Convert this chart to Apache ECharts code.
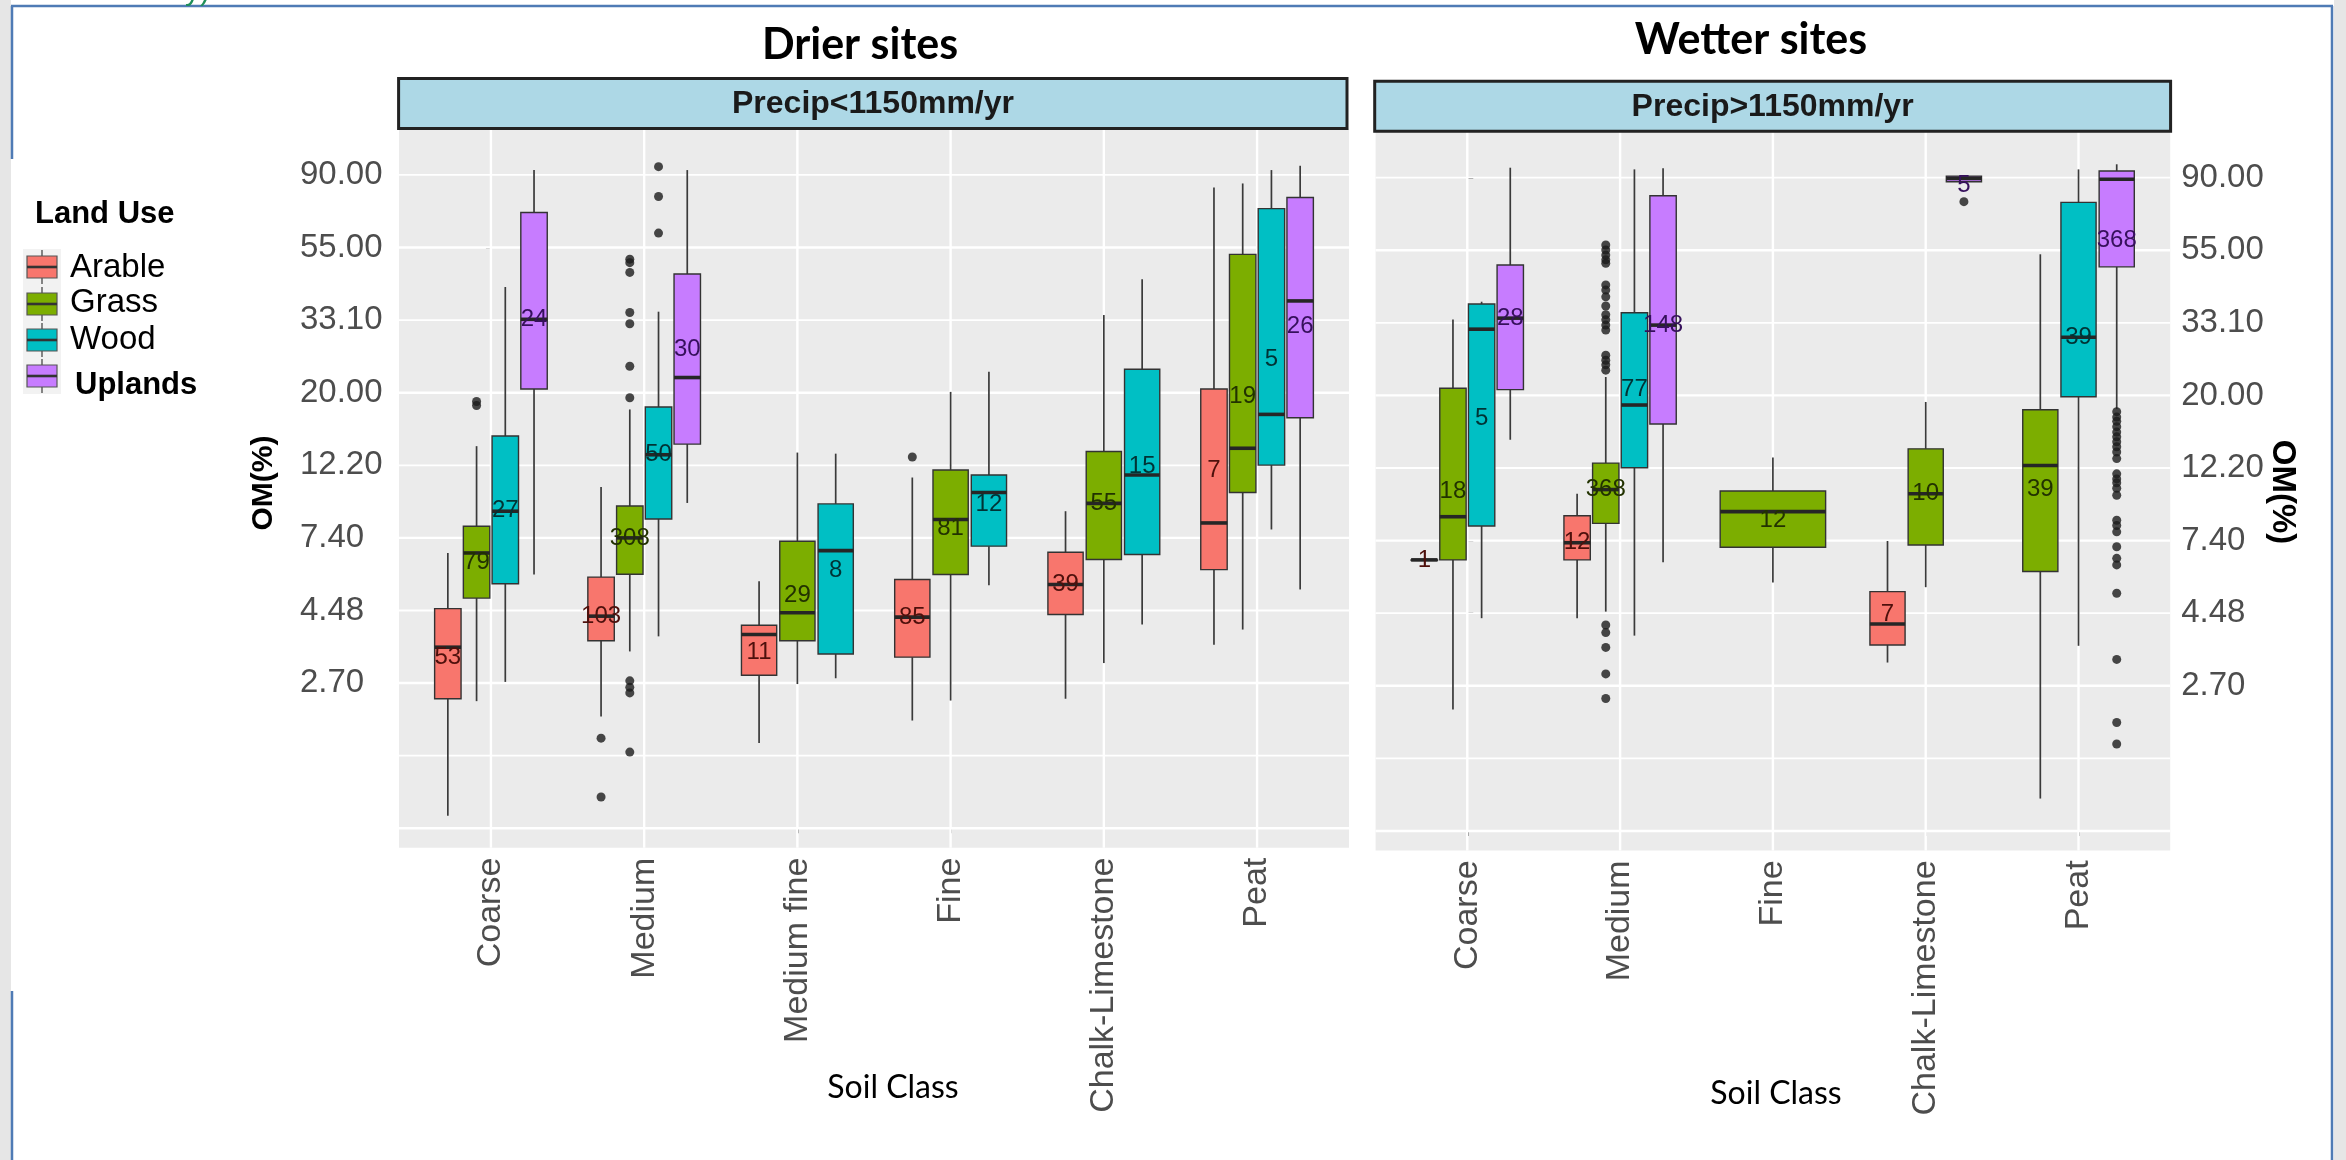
<!DOCTYPE html>
<html><head><meta charset="utf-8">
<script src="https://cdn.jsdelivr.net/npm/echarts@6/dist/echarts.min.js"></script>
<style>html,body{margin:0;padding:0;background:#fff}#c{width:2346px;height:1160px}</style>
</head><body><div id="c"></div>
<script>
// ---------- data ----------
const landUses = ['Arable', 'Grass', 'Wood', 'Uplands'];
const landColors = ['#F8766D', '#7CAE00', '#00BFC4', '#C77CFF'];
const countColors = ['#4e100c', '#223200', '#003335', '#36105c'];

const drierSoils = ['Coarse', 'Medium', 'Medium fine', 'Fine', 'Chalk-Limestone', 'Peat'];
const wetterSoils = ['Coarse', 'Medium', 'Fine', 'Chalk-Limestone', 'Peat'];

// OM(%) tick labels (log scale) and their ln positions
const yTickLn = [1, 1.5, 2, 2.5, 3, 3.5, 4, 4.5];
const yTickLabels = ['2.70', '4.48', '7.40', '12.20', '20.00', '33.10', '55.00', '90.00'];
const yMajorLn = [0, 1, 2, 3, 4];
const yMinorLn = [0.5, 1.5, 2.5, 3.5, 4.5];

// [soil, land use, lower whisker, Q1, median, Q3, upper whisker, count-label position, n]  (OM %)
const drierBoxes = [
  ['Coarse', 'Arable', 1.09, 2.44, 3.48, 4.54, 6.66, 3.24, 53],
  ['Coarse', 'Grass', 2.40, 4.88, 6.66, 8.01, 13.9, 6.26, 79],
  ['Coarse', 'Wood', 2.74, 5.39, 8.88, 14.9, 41.6, 8.95, 27],
  ['Coarse', 'Uplands', 5.74, 20.6, 33.3, 69.5, 93.1, 33.3, 24],
  ['Medium', 'Arable', 2.16, 3.64, 4.31, 5.64, 10.5, 4.31, 103],
  ['Medium', 'Grass', 3.38, 5.75, 7.39, 9.20, 17.9, 7.39, 308],
  ['Medium', 'Wood', 3.75, 8.42, 13.1, 18.2, 35.1, 13.1, 50],
  ['Medium', 'Uplands', 9.40, 14.1, 22.3, 45.5, 93.1, 27.1, 30],
  ['Medium fine', 'Arable', 1.80, 2.87, 3.80, 4.05, 5.48, 3.36, 11],
  ['Medium fine', 'Grass', 2.70, 3.64, 4.41, 7.22, 13.3, 4.98, 29],
  ['Medium fine', 'Wood', 2.81, 3.32, 6.77, 9.34, 13.2, 5.90, 8],
  ['Fine', 'Arable', 2.10, 3.25, 4.28, 5.55, 11.2, 4.28, 85],
  ['Fine', 'Grass', 2.41, 5.74, 8.39, 11.8, 20.2, 7.89, 81],
  ['Fine', 'Wood', 5.33, 6.98, 10.1, 11.4, 23.2, 9.30, 12],
  ['Chalk-Limestone', 'Arable', 2.44, 4.36, 5.36, 6.69, 8.88, 5.36, 39],
  ['Chalk-Limestone', 'Grass', 3.12, 6.37, 9.37, 13.4, 34.3, 9.37, 55],
  ['Chalk-Limestone', 'Wood', 4.07, 6.59, 11.4, 23.6, 43.9, 12.1, 15],
  ['Peat', 'Arable', 3.54, 5.94, 8.19, 20.6, 82.6, 11.8, 7],
  ['Peat', 'Grass', 3.93, 10.1, 13.7, 52.1, 84.9, 19.6, 19],
  ['Peat', 'Wood', 7.83, 12.2, 17.3, 71.4, 93.1, 25.3, 5],
  ['Peat', 'Uplands', 5.18, 16.9, 37.8, 77.1, 95.9, 31.8, 26]
];
const wetterBoxes = [
  ['Coarse', 'Arable', 6.47, 6.47, 6.47, 6.47, 6.47, 6.47, 1],
  ['Coarse', 'Grass', 2.31, 6.47, 8.71, 21.1, 33.9, 10.35, 18],
  ['Coarse', 'Wood', 4.33, 8.17, 31.7, 37.7, 38.3, 17.2, 5],
  ['Coarse', 'Uplands', 14.8, 20.9, 34.2, 49.3, 96.4, 34.2, 28],
  ['Medium', 'Arable', 4.33, 6.47, 7.28, 8.77, 10.2, 7.28, 12],
  ['Medium', 'Grass', 4.53, 8.32, 10.5, 12.6, 22.8, 10.5, 368],
  ['Medium', 'Wood', 3.84, 12.2, 18.8, 35.5, 95.3, 20.9, 77],
  ['Medium', 'Uplands', 6.37, 16.5, 32.6, 79.5, 96.0, 32.6, 148],
  ['Fine', 'Grass', 5.54, 7.06, 9.02, 10.4, 13.1, 8.47, 12],
  ['Chalk-Limestone', 'Arable', 3.19, 3.60, 4.16, 5.20, 7.37, 4.43, 7],
  ['Chalk-Limestone', 'Grass', 5.36, 7.17, 10.2, 13.9, 19.2, 10.2, 10],
  ['Chalk-Limestone', 'Uplands', 87.5, 87.5, 89.6, 91.0, 91.5, 85.5, 5],
  ['Peat', 'Grass', 1.25, 5.97, 12.4, 18.2, 53.1, 10.5, 39],
  ['Peat', 'Wood', 3.58, 19.9, 30.0, 75.9, 95.3, 30.0, 39],
  ['Peat', 'Uplands', 18.3, 48.7, 89.0, 94.2, 98.7, 58.6, 368]
];

// [soil, land use, outlier values (OM %)]
const drierOutliers = [
  ['Coarse', 'Grass', [18.9, 18.4]],
  ['Medium', 'Arable', [1.86, 1.24]],
  ['Medium', 'Grass', [50.4, 49.2, 46.0, 34.9, 32.3, 24.1, 19.4, 2.76, 2.64, 2.54, 1.69]],
  ['Medium', 'Wood', [95.3, 77.6, 60.3]],
  ['Fine', 'Arable', [12.9]]
];
const wetterOutliers = [
  ['Medium', 'Grass', [56.6, 54.7, 52.8, 51.1, 49.9, 43.0, 41.5, 39.6, 37.2, 35.0, 33.8, 32.6, 31.5,
    26.5, 25.6, 24.8, 23.9, 4.13, 3.92, 3.54, 2.95, 2.49]],
  ['Chalk-Limestone', 'Uplands', [76.3]],
  ['Peat', 'Uplands', [17.96, 17.3, 16.8, 16.2, 15.6, 15.1, 14.6, 14.1, 13.6, 13.0, 11.7, 11.3, 11.0,
    10.6, 10.1, 8.5, 8.2, 7.85, 7.08, 6.54, 6.25, 5.14, 3.26, 2.11, 1.82]]
];

// ---------- build ----------
const Y_MIN = -0.134, Y_MAX = 4.82;
const FONT = '"Liberation Sans", Arial, sans-serif';

function buildBoxes(soils, rows) {
  const counts = soils.map(s => rows.filter(r => r[0] === s).length);
  const seen = soils.map(() => 0);
  return rows.map(r => {
    const ci = soils.indexOf(r[0]);
    const n = counts[ci];
    const gi = seen[ci]++;
    const step = 0.75 / n;
    const x = ci + (gi - (n - 1) / 2) * step;
    return [x, Math.log(r[2]), Math.log(r[3]), Math.log(r[4]), Math.log(r[5]), Math.log(r[6]),
      Math.log(r[7]), r[8], landUses.indexOf(r[1]), step * 0.92, r[0], r[1]];
  });
}
function buildOutliers(boxes, outs) {
  const pts = [];
  outs.forEach(o => {
    const b = boxes.find(d => d[10] === o[0] && d[11] === o[1]);
    o[2].forEach(v => pts.push([b[0], Math.log(v)]));
  });
  return pts;
}
function gridLineData(soils) {
  return yMajorLn.map(v => [0, v, 1]).concat(yMinorLn.map(v => [0, v, 0]))
    .concat(soils.map((s, i) => [1, i, 1]));
}

const drierData = buildBoxes(drierSoils, drierBoxes);
const wetterData = buildBoxes(wetterSoils, wetterBoxes);

function renderGridLine(params, api) {
  const cs = params.coordSys;
  const orient = api.value(0), v = api.value(1), major = api.value(2);
  if (orient === 0) {
    const y = api.coord([0, v])[1];
    return { type: 'line', shape: { x1: cs.x, y1: y, x2: cs.x + cs.width, y2: y },
      style: { stroke: '#ffffff', lineWidth: major ? 2.4 : 1.8 } };
  }
  const x = api.coord([v, 0])[0];
  return { type: 'line', shape: { x1: x, y1: cs.y, x2: x, y2: cs.y + cs.height },
    style: { stroke: '#ffffff', lineWidth: 2.4 } };
}

function renderBox(params, api) {
  const x = api.value(0);
  const pLo = api.coord([x, api.value(1)]);
  const pQ1 = api.coord([x, api.value(2)]);
  const pMed = api.coord([x, api.value(3)]);
  const pQ3 = api.coord([x, api.value(4)]);
  const pHi = api.coord([x, api.value(5)]);
  const pLab = api.coord([x, api.value(6)]);
  const n = api.value(7);
  const li = api.value(8);
  const w = api.size([api.value(9), 0])[0];
  const cx = pMed[0];
  const whisker = { stroke: '#3a3a3a', lineWidth: 1.7 };
  return {
    type: 'group',
    children: [
      { type: 'line', shape: { x1: cx, y1: pHi[1], x2: cx, y2: pQ3[1] }, style: whisker },
      { type: 'line', shape: { x1: cx, y1: pQ1[1], x2: cx, y2: pLo[1] }, style: whisker },
      { type: 'rect', shape: { x: cx - w / 2, y: pQ3[1], width: w, height: Math.max(pQ1[1] - pQ3[1], 0.5) },
        style: { fill: landColors[li], stroke: '#333333', lineWidth: 1.4 } },
      { type: 'line', shape: { x1: cx - w / 2, y1: pMed[1], x2: cx + w / 2, y2: pMed[1] },
        style: { stroke: '#262626', lineWidth: 3.6 } },
      { type: 'text', x: cx, y: pLab[1],
        style: { text: String(n), align: 'center', verticalAlign: 'middle', textAlign: 'center',
          textVerticalAlign: 'middle', fill: countColors[li], font: '24px ' + FONT } }
    ]
  };
}

function fmtY(v) {
  for (let i = 0; i < yTickLn.length; i++) if (Math.abs(yTickLn[i] - v) < 1e-6) return yTickLabels[i];
  return '';
}

function xAxisFor(idx, soils) {
  const vals = soils.map((s, i) => i);
  return {
    type: 'value', gridIndex: idx, min: -0.6, max: soils.length - 1 + 0.6,
    axisLine: { show: false }, splitLine: { show: false }, minorTick: { show: false },
    axisTick: { show: true, customValues: vals, length: 5, lineStyle: { color: '#333', width: 1.6 } },
    axisLabel: { customValues: vals, formatter: v => soils[Math.round(v)] || '', rotate: 90, margin: 10,
      color: '#4d4d4d', fontSize: 34, fontFamily: FONT }
  };
}

const grids = [
  { left: 399, top: 128.5, width: 950, height: 719.2, show: true, backgroundColor: '#ebebeb', borderWidth: 0, outerBoundsMode: 'none' },
  { left: 1375.6, top: 131.2, width: 794.6, height: 719.2, show: true, backgroundColor: '#ebebeb', borderWidth: 0, outerBoundsMode: 'none' }
];

const yAxes = [
  { type: 'value', gridIndex: 0, min: Y_MIN, max: Y_MAX, position: 'left',
    axisLine: { show: false }, splitLine: { show: false },
    axisTick: { show: true, customValues: yMajorLn, length: 5, lineStyle: { color: '#444', width: 1.6 } },
    axisLabel: { customValues: yTickLn, formatter: fmtY, align: 'left', margin: 99,
      color: '#4d4d4d', fontSize: 33, fontFamily: FONT } },
  { type: 'value', gridIndex: 1, min: Y_MIN, max: Y_MAX, position: 'right',
    axisLine: { show: false }, splitLine: { show: false },
    axisTick: { show: true, customValues: yTickLn, length: 6, lineStyle: { color: '#444', width: 1.6 } },
    axisLabel: { customValues: yTickLn, formatter: fmtY, align: 'left', margin: 11,
      color: '#4d4d4d', fontSize: 33, fontFamily: FONT } }
];

function panelSeries(idx, soils, data, outs) {
  return [
    { type: 'custom', xAxisIndex: idx, yAxisIndex: idx, z: 1, silent: true, clip: false,
      renderItem: renderGridLine, data: gridLineData(soils) },
    { type: 'custom', xAxisIndex: idx, yAxisIndex: idx, z: 3, silent: true, clip: false,
      renderItem: renderBox, data: data.map(d => d.slice(0, 10)) },
    { type: 'scatter', xAxisIndex: idx, yAxisIndex: idx, z: 4, silent: true,
      symbol: 'circle', symbolSize: 9, itemStyle: { color: '#1c1c1c' },
      data: buildOutliers(data, outs) }
  ];
}

// ---------- decorations ----------
const graphics = [];
// page frame
graphics.push({ type: 'rect', shape: { x: 0, y: 0, width: 11, height: 1160 }, style: { fill: '#e6e6e6' }, silent: true });
graphics.push({ type: 'rect', shape: { x: 2334, y: 0, width: 12, height: 1160 }, style: { fill: '#e6e6e6' }, silent: true });
const frameStyle = { stroke: '#4f7bb5', lineWidth: 2.5 };
graphics.push({ type: 'line', shape: { x1: 11, y1: 6, x2: 2333, y2: 6 }, style: frameStyle, silent: true });
graphics.push({ type: 'line', shape: { x1: 12, y1: 6, x2: 12, y2: 159 }, style: frameStyle, silent: true });
graphics.push({ type: 'line', shape: { x1: 12, y1: 991, x2: 12, y2: 1160 }, style: frameStyle, silent: true });
graphics.push({ type: 'line', shape: { x1: 2332, y1: 6, x2: 2332, y2: 1160 }, style: frameStyle, silent: true });
graphics.push({ type: 'text', x: 185, y: 7, silent: true,
  style: { text: 'y)', fill: '#1f8f5a', font: '30px ' + FONT, verticalAlign: 'bottom', textVerticalAlign: 'bottom' } });

function txt(t, x, y, font, opts) {
  opts = opts || {};
  return { type: 'text', x: x, y: y, rotation: opts.rotation || 0, silent: true, z: 10,
    style: { text: t, fill: opts.fill || '#000', font: font,
      align: opts.align || 'center', textAlign: opts.align || 'center',
      verticalAlign: 'middle', textVerticalAlign: 'middle' } };
}
// titles
graphics.push(txt('Drier sites', 860, 45, 'bold 43px Lato, "Open Sans", sans-serif'));
graphics.push(txt('Wetter sites', 1751, 40, 'bold 43px Lato, "Open Sans", sans-serif'));
// strips
graphics.push({ type: 'rect', shape: { x: 398.6, y: 78.6, width: 948.4, height: 49.9 }, z: 9, silent: true,
  style: { fill: '#add8e6', stroke: '#222', lineWidth: 3 } });
graphics.push({ type: 'rect', shape: { x: 1374.7, y: 81.3, width: 795.9, height: 49.9 }, z: 9, silent: true,
  style: { fill: '#add8e6', stroke: '#222', lineWidth: 3 } });
graphics.push(txt('Precip<1150mm/yr', 873, 104, 'bold 32px ' + FONT, { fill: '#1a1a1a' }));
graphics.push(txt('Precip>1150mm/yr', 1772.6, 107, 'bold 32px ' + FONT, { fill: '#1a1a1a' }));
// axis titles
graphics.push(txt('OM(%)', 264, 483, 'bold 30px ' + FONT, { rotation: Math.PI / 2 }));
graphics.push(txt('OM(%)', 2282, 492, 'bold 33px ' + FONT, { rotation: -Math.PI / 2 }));
graphics.push(txt('Soil Class', 893, 1088, '32px Lato, "Open Sans", sans-serif'));
graphics.push(txt('Soil Class', 1776, 1094, '32px Lato, "Open Sans", sans-serif'));
// legend
graphics.push(txt('Land Use', 35, 214, 'bold 31px ' + FONT, { align: 'left' }));
graphics.push({ type: 'rect', shape: { x: 23, y: 249, width: 38, height: 145 }, style: { fill: '#f2f2f2' }, silent: true });
const keyCenters = [267, 304, 340, 376];
const keyTextY = [268, 303, 340, 385];
landUses.forEach((lu, i) => {
  const cy = keyCenters[i];
  graphics.push({ type: 'line', shape: { x1: 42, y1: cy - 17, x2: 42, y2: cy + 17 }, style: { stroke: '#555', lineWidth: 1.4 }, silent: true });
  graphics.push({ type: 'rect', shape: { x: 27, y: cy - 11, width: 30, height: 22 },
    style: { fill: landColors[i], stroke: '#555', lineWidth: 1.2 }, silent: true });
  graphics.push({ type: 'line', shape: { x1: 27, y1: cy, x2: 57, y2: cy }, style: { stroke: '#333', lineWidth: 2.6 }, silent: true });
  if (lu === 'Uplands') graphics.push(txt(lu, 75, keyTextY[i], 'bold 31px ' + FONT, { align: 'left' }));
  else graphics.push(txt(lu, 70, keyTextY[i], '33px ' + FONT, { align: 'left' }));
});

const chart = echarts.init(document.getElementById('c'), null, { renderer: 'canvas' });
chart.setOption({
  animation: false,
  backgroundColor: '#ffffff',
  grid: grids,
  xAxis: [xAxisFor(0, drierSoils), xAxisFor(1, wetterSoils)],
  yAxis: yAxes,
  series: panelSeries(0, drierSoils, drierData, drierOutliers)
    .concat(panelSeries(1, wetterSoils, wetterData, wetterOutliers)),
  graphic: { elements: graphics }
});
</script></body></html>
